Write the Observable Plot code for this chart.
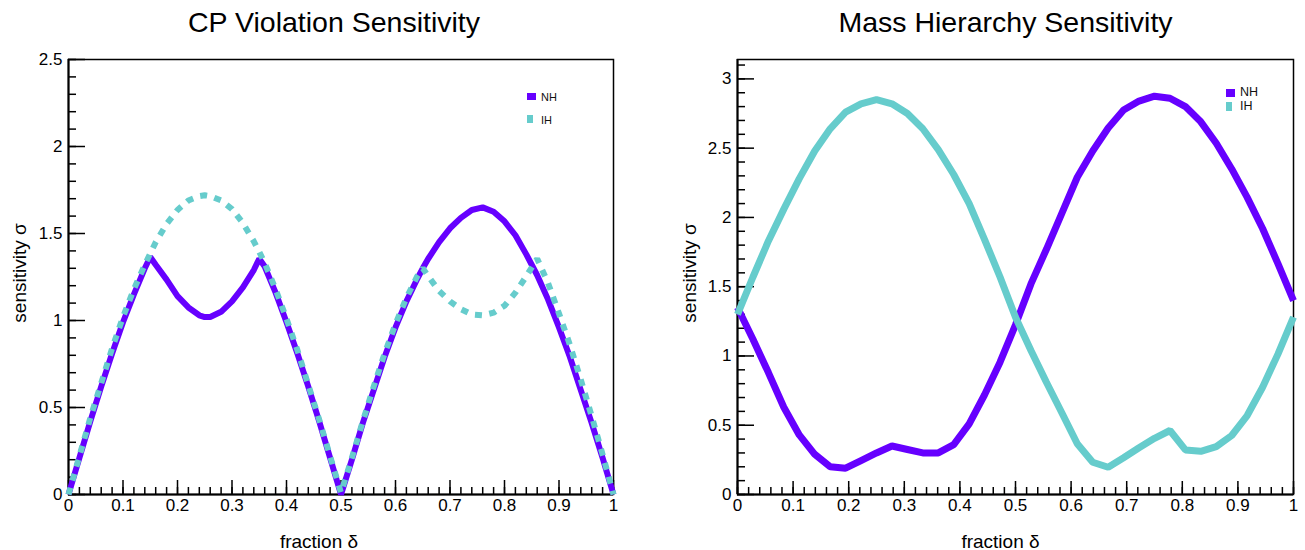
<!DOCTYPE html>
<html>
<head>
<meta charset="utf-8">
<script src="https://cdn.jsdelivr.net/npm/d3@7"></script>
<script src="https://cdn.jsdelivr.net/npm/@observablehq/plot@0.6"></script>
<style>
  body { margin: 0; background: #fff; }
  #wrap { position: relative; width: 1305px; height: 550px; font-family: "Liberation Sans", Arial, Helvetica, sans-serif; color: #000; }
  #left { position: absolute; left: 0; top: 0; }
  #right { position: absolute; left: 653px; top: 0; }
  .sw { position: absolute; }
  .lt { position: absolute; line-height: 1; color: #111; }
</style>
</head>
<body>
<div id="wrap">
  <div id="left"></div>
  <div id="right"></div>
</div>
<script>
// ---------- Data ----------
const seriesNames = ["NH", "IH"];
const colNH = "#6600ff";
const colIH = "#66cccc";

// CP Violation Sensitivity (left)
const cpX = [0, 0.02, 0.04, 0.06, 0.08, 0.10, 0.12, 0.14, 0.15, 0.16, 0.18, 0.20, 0.22, 0.24, 0.25, 0.26, 0.28, 0.30, 0.32, 0.34, 0.35,
  0.36, 0.38, 0.40, 0.42, 0.44, 0.46, 0.48, 0.50, 0.52, 0.54, 0.56, 0.58, 0.60, 0.62, 0.64, 0.65,
  0.66, 0.68, 0.70, 0.72, 0.74, 0.76, 0.78, 0.80, 0.82, 0.84, 0.86, 0.88, 0.90, 0.92, 0.94, 0.96, 0.98, 1.00];
const cpNH = [0, 0.21, 0.42, 0.62, 0.81, 0.99, 1.15, 1.30, 1.365, 1.32, 1.235, 1.14, 1.075, 1.03, 1.02, 1.02, 1.05, 1.11, 1.19, 1.29, 1.355,
  1.31, 1.16, 0.99, 0.81, 0.62, 0.42, 0.21, 0, 0.20, 0.41, 0.60, 0.79, 0.96, 1.11, 1.24, 1.30,
  1.355, 1.45, 1.53, 1.59, 1.635, 1.65, 1.625, 1.57, 1.49, 1.38, 1.26, 1.12, 0.96, 0.79, 0.60, 0.41, 0.21, 0];
const cpIH = [0, 0.22, 0.44, 0.64, 0.84, 1.02, 1.18, 1.32, 1.385, 1.45, 1.555, 1.635, 1.69, 1.715, 1.72, 1.715, 1.69, 1.64, 1.56, 1.455, 1.395,
  1.33, 1.18, 1.01, 0.83, 0.63, 0.43, 0.22, 0.01, 0.21, 0.42, 0.62, 0.81, 0.98, 1.13, 1.255, 1.30,
  1.255, 1.17, 1.11, 1.065, 1.035, 1.03, 1.045, 1.085, 1.16, 1.255, 1.355, 1.215, 1.04, 0.86, 0.66, 0.45, 0.23, 0];

// Mass Hierarchy Sensitivity (right)
const mhX = [0, 0.0278, 0.0556, 0.0833, 0.1111, 0.1389, 0.1667, 0.1944, 0.2222, 0.25, 0.2778, 0.3056, 0.3333, 0.3611, 0.3889, 0.4167, 0.4444, 0.4722,
  0.5, 0.5278, 0.5556, 0.5833, 0.6111, 0.6389, 0.6667, 0.6944, 0.7222, 0.75, 0.7778, 0.8056, 0.8333, 0.8611, 0.8889, 0.9167, 0.9444, 0.9722, 1];
const mhNH = [1.35, 1.12, 0.88, 0.63, 0.43, 0.29, 0.20, 0.19, 0.245, 0.30, 0.35, 0.325, 0.30, 0.30, 0.36, 0.51, 0.72, 0.955,
  1.225, 1.52, 1.77, 2.03, 2.29, 2.48, 2.645, 2.775, 2.84, 2.875, 2.86, 2.80, 2.69, 2.535, 2.35, 2.145, 1.92, 1.665, 1.40];
const mhIH = [1.30, 1.57, 1.83, 2.06, 2.28, 2.48, 2.64, 2.76, 2.82, 2.85, 2.82, 2.75, 2.64, 2.49, 2.31, 2.10, 1.84, 1.57,
  1.28, 1.04, 0.81, 0.59, 0.366, 0.233, 0.197, 0.265, 0.337, 0.406, 0.462, 0.322, 0.312, 0.346, 0.426, 0.57, 0.774, 1.015, 1.28];

// Tick labels
const xMajor = [0, 0.1, 0.2, 0.3, 0.4, 0.5, 0.6, 0.7, 0.8, 0.9, 1];
const xMajorLabels = ["0", "0.1", "0.2", "0.3", "0.4", "0.5", "0.6", "0.7", "0.8", "0.9", "1"];
const yMajorCP = [0, 0.5, 1, 1.5, 2, 2.5];
const yMajorCPLabels = ["0", "0.5", "1", "1.5", "2", "2.5"];
const yMajorMH = [0, 0.5, 1, 1.5, 2, 2.5, 3];
const yMajorMHLabels = ["0", "0.5", "1", "1.5", "2", "2.5", "3"];
const xMinor = d3.range(0, 1.0001, 0.02);
const yMinorCP = d3.range(0, 2.5001, 0.1);
const yMinorMH = d3.range(0, 3.1001, 0.1);

const FONT = '"Liberation Sans", Arial, Helvetica, sans-serif';

function panel(o) {
  const labelOf = (arr, labs) => (d) => labs[arr.findIndex(v => Math.abs(v - d) < 1e-9)];
  return Plot.plot({
    width: o.width, height: 550,
    marginLeft: o.ml, marginRight: o.mr, marginTop: 59, marginBottom: 56,
    x: {domain: [0, 1]},
    y: {domain: [0, o.yMax]},
    style: {fontFamily: FONT, fontSize: "17px", color: "#000", background: "#fff", overflow: "visible"},
    marks: [
      Plot.frame({stroke: "#000", strokeWidth: 1.5}),
      Plot.axisY({ticks: o.yMinor, tickSize: -o.yMinSize, fill: "none", label: null, strokeWidth: 1.5}),
      Plot.axisY({ticks: o.yMajor, tickSize: -17, fill: "none", label: null, strokeWidth: 1.5}),
      Plot.axisY({ticks: o.yMajor, tickSize: 0, tickPadding: 6, tickFormat: labelOf(o.yMajor, o.yLabels), label: null, fontSize: 17, fill: "#000"}),
      Plot.axisX({ticks: xMinor, tickSize: -o.xMinSize, fill: "none", label: null, strokeWidth: 1.5}),
      Plot.axisX({ticks: xMajor, tickSize: -o.xMajSize, fill: "none", label: null, strokeWidth: 1.5}),
      Plot.axisX({ticks: xMajor, tickSize: 0, tickPadding: 4, tickFormat: labelOf(xMajor, xMajorLabels), label: null, fontSize: 17, fill: "#000"}),
      Plot.ruleX([0], {stroke: "#000", strokeWidth: 2}),
      Plot.ruleY([0], {stroke: "#000", strokeWidth: 2}),
      ...o.lines,
      Plot.text([o.title], {text: d => d, frameAnchor: "top", textAnchor: "middle", dx: o.titleDx, dy: -37, fontSize: 28.5, lineAnchor: "middle", fill: "#000"}),
      Plot.text(["fraction δ"], {text: d => d, frameAnchor: "bottom", textAnchor: "middle", dx: o.xtDx, dy: 47, fontSize: 19, lineAnchor: "middle", fill: "#000"}),
      Plot.text(["sensitivity σ"], {text: d => d, frameAnchor: "left", textAnchor: "middle", dx: o.ytDx, dy: -4, rotate: -90, fontSize: 19, lineAnchor: "middle", fill: "#000"})
    ]
  });
}

const left = panel({
  width: 652, ml: 68, mr: 39, yMax: 2.5,
  yMajor: yMajorCP, yLabels: yMajorCPLabels, yMinor: yMinorCP, yMinSize: 8,
  xMajSize: 14, xMinSize: 7,
  title: "CP Violation Sensitivity", titleDx: -7, xtDx: -22, ytDx: -49,
  lines: [
    Plot.lineY(cpNH, {x: cpX, stroke: colNH, strokeWidth: 6, strokeLinejoin: "miter", strokeLinecap: "butt"}),
    Plot.lineY(cpIH, {x: cpX, stroke: colIH, strokeWidth: 6, strokeDasharray: "7,7.5", strokeLinejoin: "miter", strokeLinecap: "butt"})
  ]
});
document.getElementById("left").appendChild(left);

const right = panel({
  width: 652, ml: 84, mr: 12, yMax: 3.14,
  yMajor: yMajorMH, yLabels: yMajorMHLabels, yMinor: yMinorMH, yMinSize: 8,
  xMajSize: 13, xMinSize: 7,
  title: "Mass Hierarchy Sensitivity", titleDx: -10, xtDx: -15, ytDx: -48,
  lines: [
    Plot.lineY(mhNH, {x: mhX, stroke: colNH, strokeWidth: 7, strokeLinejoin: "miter", strokeLinecap: "butt"}),
    Plot.lineY(mhIH, {x: mhX, stroke: colIH, strokeWidth: 7, strokeLinejoin: "miter", strokeLinecap: "butt"})
  ]
});
document.getElementById("right").appendChild(right);

// ---------- Legends ----------
const wrap = document.getElementById("wrap");
function legend(items, opts) {
  items.forEach((it, i) => {
    const sw = document.createElement("div");
    sw.className = "sw";
    const s = opts.sw[i];
    Object.assign(sw.style, {left: s[0] + "px", top: s[1] + "px", width: s[2] + "px", height: s[3] + "px", background: it.color});
    wrap.appendChild(sw);
    const t = document.createElement("div");
    t.className = "lt";
    t.textContent = it.name;
    Object.assign(t.style, {left: opts.tx + "px", top: opts.ty[i] + "px", fontSize: opts.fs + "px"});
    wrap.appendChild(t);
  });
}
const legItems = [{name: seriesNames[0], color: colNH}, {name: seriesNames[1], color: colIH}];
legend(legItems, {sw: [[527, 93, 9, 7], [527, 115, 6, 8]], tx: 541, ty: [92, 115], fs: 11});
legend(legItems, {sw: [[1226, 89, 9, 8], [1226, 102, 6, 9]], tx: 1240, ty: [86, 100], fs: 12.5});
</script>
</body>
</html>
